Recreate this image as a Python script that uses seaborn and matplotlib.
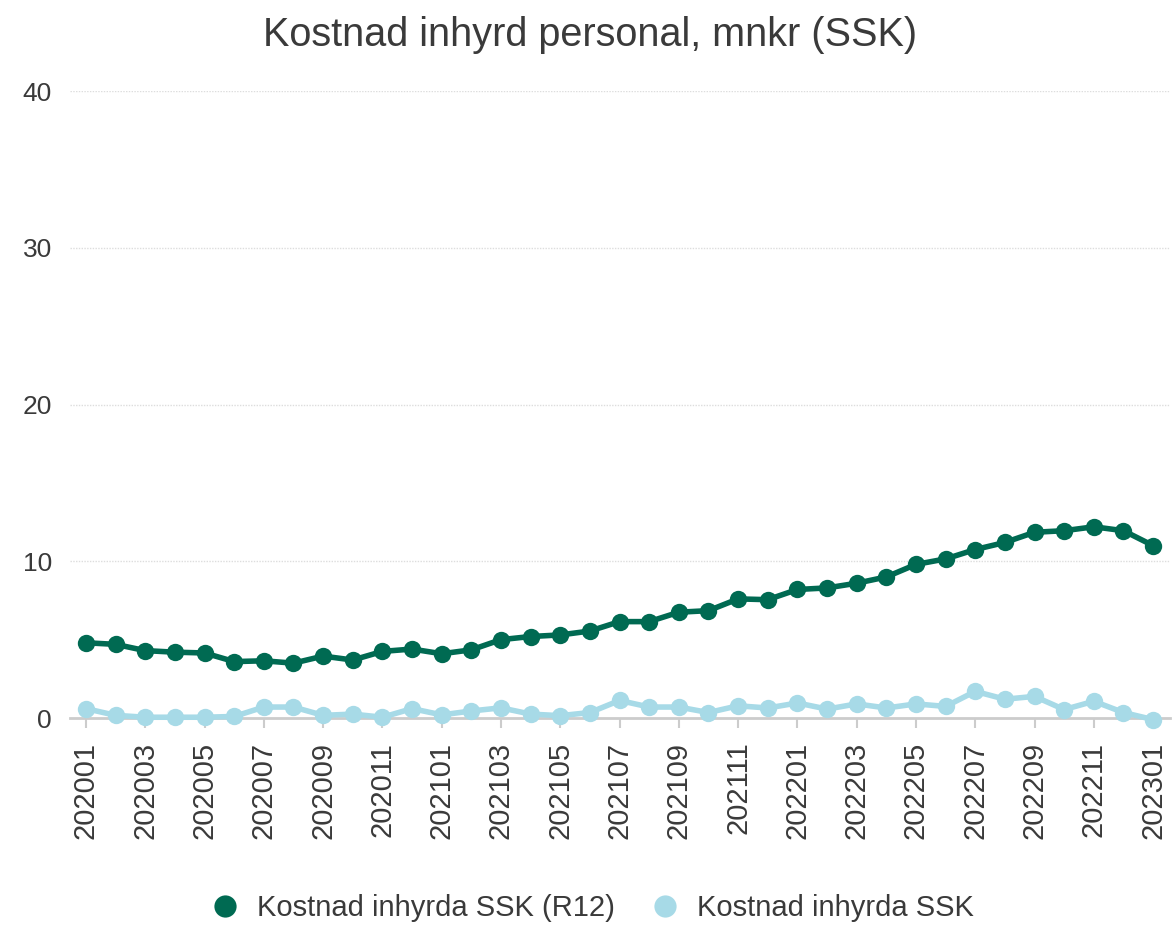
"""
Kostnad inhyrd personal, mnkr (SSK) - line chart recreation.
"""

import matplotlib
matplotlib.use("Agg")
import matplotlib.pyplot as plt
from matplotlib.lines import Line2D
import pandas as pd
import seaborn as sns

# Months 202001 .. 202301
months = [f"{y}{m:02d}" for y in (2020, 2021, 2022) for m in range(1, 13)] + ["202301"]

r12_values = [4.8, 4.7, 4.3, 4.2, 4.15, 3.6, 3.65, 3.5, 3.95, 3.7, 4.25, 4.4,
              4.1, 4.35, 5.0, 5.2, 5.3, 5.55, 6.15, 6.15, 6.75, 6.85, 7.6, 7.55,
              8.2, 8.3, 8.6, 9.0, 9.8, 10.15, 10.75, 11.2, 11.85, 11.95, 12.2, 11.95,
              11.0]
month_values = [0.6, 0.17, 0.05, 0.05, 0.05, 0.1, 0.7, 0.7, 0.17, 0.25, 0.05, 0.6,
                0.2, 0.45, 0.65, 0.25, 0.15, 0.35, 1.12, 0.7, 0.7, 0.35, 0.78, 0.64,
                0.96, 0.57, 0.9, 0.64, 0.9, 0.74, 1.7, 1.2, 1.38, 0.54, 1.07, 0.35,
                -0.1]

series_names = ["Kostnad inhyrda SSK (R12)", "Kostnad inhyrda SSK"]
colors = ["#006A52", "#A7DAE7"]
text_color = "#3a3a3a"

# Long-form table for seaborn
df = pd.concat([
    pd.DataFrame({"idx": range(len(months)), "value": r12_values, "serie": series_names[0]}),
    pd.DataFrame({"idx": range(len(months)), "value": month_values, "serie": series_names[1]}),
])

sns.set_style("white")
plt.rcParams["font.family"] = ["Liberation Sans", "DejaVu Sans"]

fig = plt.figure(figsize=(11.74, 9.26), dpi=100)
ax = fig.add_axes([0.0596, 0.2246, 0.937, 0.6771])

sns.lineplot(data=df, x="idx", y="value", hue="serie", hue_order=series_names,
             palette=colors, marker="o", markersize=12.5, markeredgewidth=0,
             linewidth=4, legend=False, ax=ax, clip_on=False, zorder=3)

ax.set_xlim(-0.54, len(months) - 1 + 0.57)
ax.set_ylim(0, 40)
ax.set_yticks([0, 10, 20, 30, 40])
ax.set_xticks(range(0, len(months), 2))
ax.set_xticklabels(months[::2], rotation=90)
ax.tick_params(axis="y", labelsize=19, labelcolor=text_color, length=0, pad=13)
ax.tick_params(axis="x", labelsize=21, labelcolor=text_color, length=7, width=1.5,
               color="#cccccc", direction="out", pad=10, bottom=True)

for y in [10, 20, 30, 40]:
    ax.axhline(y, color="#dddddd", linewidth=1, linestyle=(0, (1, 1)), zorder=0)

for side in ["top", "right", "left"]:
    ax.spines[side].set_visible(False)
ax.spines["bottom"].set_color("#cccccc")
ax.spines["bottom"].set_linewidth(2)
ax.set_xlabel("")
ax.set_ylabel("")

fig.text(0.503, 0.962, "Kostnad inhyrd personal, mnkr (SSK)", ha="center", va="center",
         fontsize=28.5, color=text_color)

handles = [Line2D([], [], linestyle="none", marker="o", markersize=16,
                  markerfacecolor=c, markeredgewidth=0) for c in colors]
fig.legend(handles, series_names, loc="center", bbox_to_anchor=(0.498, 0.019),
           ncol=2, frameon=False, fontsize=21, labelcolor=text_color,
           handletextpad=0.1, columnspacing=0.7)

fig.savefig("out.png", dpi=100, facecolor="white")
